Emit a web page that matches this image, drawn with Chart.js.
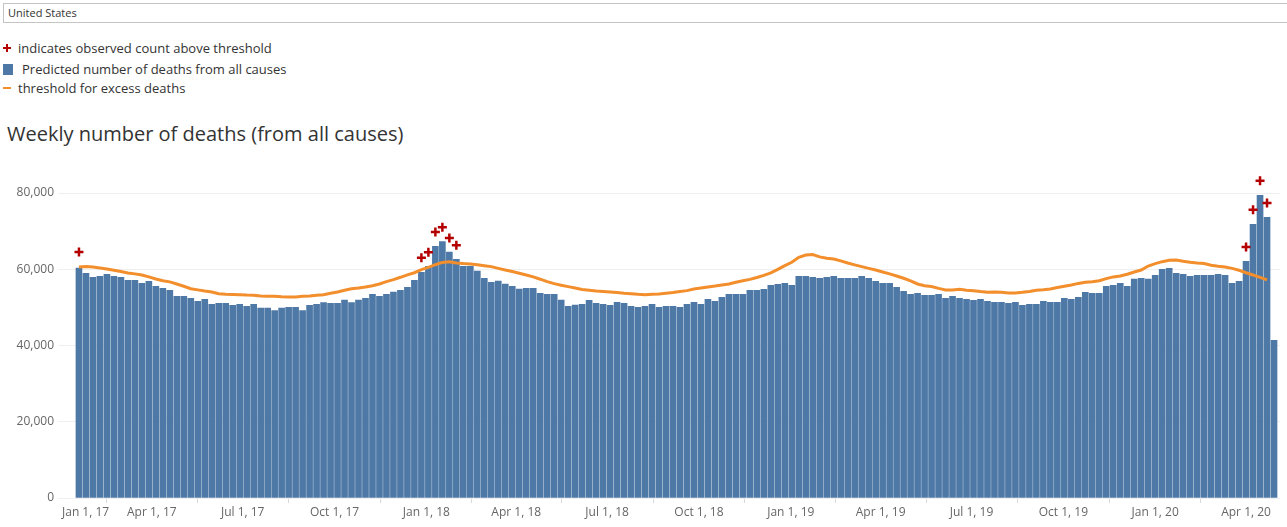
<!DOCTYPE html>
<html>
<head>
<meta charset="utf-8">
<title>Weekly number of deaths</title>
<script src="https://cdn.jsdelivr.net/npm/chart.js@4/dist/chart.umd.min.js"></script>
<style>
    body { margin: 0; background: #fff; font-family: "Open Sans", sans-serif; color: #333; }
    #page { position: relative; width: 1287px; height: 527px; overflow: hidden; }
    #filter {
        position: absolute; left: 3px; top: 3px; width: 1280px; height: 18px;
        border: 1px solid #c4c4c4; font-size: 11px; line-height: 18px; padding-left: 4px;
    }
    .legend-row { position: absolute; left: 0; height: 18px; font-size: 13px; line-height: 18px; white-space: nowrap; }
    .plus { position: absolute; left: 3px; top: 5px; width: 8px; height: 8px; }
    .plus::before, .plus::after { content: ""; position: absolute; background: #b40000; }
    .plus::before { left: 3px; top: 0; width: 2px; height: 8px; }
    .plus::after { left: 0; top: 3px; width: 8px; height: 2px; }
    .swatch { position: absolute; left: 3px; top: 4px; width: 10px; height: 11px; background: #4e79a7; }
    .dash { position: absolute; left: 3px; top: 8px; width: 8px; height: 2px; background: #f28e2b; }
    #title { position: absolute; left: 7px; top: 121px; font-size: 20px; line-height: 26px; white-space: nowrap; }
    #wrap { position: absolute; left: 0; top: 160px; width: 1287px; height: 367px; }
</style>
</head>
<body>
<div id="page">
    <div id="filter">United States</div>
    <div class="legend-row" style="top:39px"><span class="plus"></span><span style="margin-left:18px">indicates observed count above threshold</span></div>
    <div class="legend-row" style="top:60px"><span class="swatch"></span><span style="margin-left:22px">Predicted number of deaths from all causes</span></div>
    <div class="legend-row" style="top:79px"><span class="dash"></span><span style="margin-left:18px">threshold for excess deaths</span></div>
    <div id="title">Weekly number of deaths (from all causes)</div>
    <div id="wrap"><canvas id="chart"></canvas></div>
</div>
<script>
// --- Data (weekly, first week ending Jan 14, 2017) ---
const firstWeekEnding = '2017-01-14';

const predicted = [
    60350, 58950, 57900, 58150, 58700, 58150, 57900, 57100, 57100, 56300,
    56850, 55500, 55000, 54500, 52900, 52900, 52400, 51600, 52100, 50800,
    51050, 51050, 50550, 50800, 50300, 50800, 49800, 49800, 49200, 49800,
    50000, 50000, 49200, 50550, 50800, 51300, 51050, 51050, 51900, 51300,
    51900, 52400, 53400, 52900, 53400, 54000, 54500, 55300, 57100, 59200,
    60750, 66000, 67300, 64500, 62600, 60800, 60800, 59500, 57600, 56600,
    56900, 56100, 55500, 54800, 55000, 55000, 53700, 53400, 53400, 51900,
    50300, 50600, 50800, 51850, 51050, 50800, 50550, 51350, 51050, 50300,
    50000, 50300, 50800, 50000, 50300, 50300, 50000, 50800, 51350, 50800,
    52100, 51600, 52650, 53450, 53450, 53450, 54500, 54500, 54750, 55800,
    56050, 56300, 55800, 58150, 58150, 57900, 57600, 57900, 58150, 57600,
    57600, 57600, 58150, 57600, 56850, 56300, 56300, 55250, 54200, 53450,
    53700, 53200, 53200, 53450, 52400, 52900, 52400, 52100, 51850, 52100,
    51600, 51350, 51350, 51050, 51350, 50550, 50800, 50800, 51600, 51350,
    51350, 52400, 52100, 52650, 53950, 53700, 53700, 55550, 55800, 56300,
    55550, 57400, 57650, 57400, 58400, 60000, 60250, 58950, 58700, 58150,
    58400, 58400, 58400, 58700, 58400, 56300, 56850, 62100, 71800, 79400,
    73650, 41350
];

const threshold = [
    60600, 60700, 60600, 60350, 60100, 59750, 59400, 59050, 58800, 58500,
    58000, 57450, 57000, 56700, 56150, 55550, 54900, 54600, 54300, 54050,
    53600, 53450, 53400, 53350, 53250, 53200, 53000, 52900, 52900, 52800,
    52750, 52750, 52900, 53000, 53200, 53350, 53700, 54050, 54500, 54900,
    55100, 55350, 55700, 56150, 56750, 57300, 57900, 58550, 59100, 59900,
    60500, 61200, 61800, 62000, 61650, 61500, 61400, 61200, 60950, 60700,
    60250, 59800, 59400, 58950, 58500, 58000, 57400, 56750, 56250, 55800,
    55450, 55100, 54700, 54500, 54300, 54200, 54050, 53900, 53700, 53600,
    53450, 53350, 53450, 53500, 53700, 53900, 54150, 54400, 54850, 55100,
    55350, 55600, 55900, 56150, 56600, 57000, 57350, 57850, 58400, 59050,
    60000, 60950, 61850, 63150, 63750, 63850, 63250, 62900, 62700, 62200,
    61650, 61150, 60700, 60250, 59800, 59300, 58800, 58250, 57650, 56950,
    56150, 55700, 55500, 55000, 54600, 54600, 54750, 54500, 54400, 54150,
    53950, 54050, 53950, 53800, 53800, 53950, 54200, 54500, 54650, 54850,
    55200, 55550, 55900, 56300, 56600, 56750, 57000, 57550, 58000, 58250,
    58700, 59300, 59800, 60850, 61500, 62000, 62350, 62450, 62100, 61850,
    61650, 61500, 61050, 60800, 60600, 60250, 59750, 59100, 58500, 57900,
    57200, null
];

// weeks (0-based) flagged with a "+" and where the marker sits
const aboveWeeks = [0, 49, 50, 51, 52, 53, 54, 167, 168, 169, 170];
const aboveMarks = [64550, 63000, 64500, 69800, 71000, 68200, 66300, 65850, 75600, 83200, 77400];

const xTickDates = [
    '2017-01-01', '2017-04-01', '2017-07-01', '2017-10-01',
    '2018-01-01', '2018-04-01', '2018-07-01', '2018-10-01',
    '2019-01-01', '2019-04-01', '2019-07-01', '2019-10-01',
    '2020-01-01', '2020-04-01'
];
const xTickLabels = [
    'Jan 1, 17', 'Apr 1, 17', 'Jul 1, 17', 'Oct 1, 17',
    'Jan 1, 18', 'Apr 1, 18', 'Jul 1, 18', 'Oct 1, 18',
    'Jan 1, 19', 'Apr 1, 19', 'Jul 1, 19', 'Oct 1, 19',
    'Jan 1, 20', 'Apr 1, 20'
];
const yTicks = [0, 20000, 40000, 60000, 80000];

// --- Helpers ---
const DAY = 86400000;
const ORIGIN = Date.UTC(2017, 0, 1);

function dayNumber(iso) {
    const [y, m, d] = iso.split('-').map(Number);
    return (Date.UTC(y, m - 1, d) - ORIGIN) / DAY;
}

// Tableau draws each weekly bar a few days right of its week-ending date
const BAR_SHIFT_DAYS = 4;
const firstDay = dayNumber(firstWeekEnding) + BAR_SHIFT_DAYS;
const weekX = predicted.map((_, i) => firstDay + 7 * i);

const barPoints = predicted.map((v, i) => ({ x: weekX[i], y: v }));
const linePoints = threshold.map((v, i) => ({ x: weekX[i], y: v }));
const plusPoints = aboveWeeks.map((w, i) => ({ x: weekX[w], y: aboveMarks[i] }));

// x axis range in days from Jan 1, 2017
const X_MIN = -4;
const X_MAX = 1220;
const tickDays = xTickDates.map(dayNumber).concat([X_MAX]); // last one is a blank end tick

const AXIS_FONT = { family: '"Open Sans", sans-serif', size: 12 };

// --- Chart ---
const ctx = document.getElementById('chart').getContext('2d');
new Chart(ctx, {
    type: 'bar',
    data: {
        datasets: [
            {
                type: 'scatter',
                label: 'indicates observed count above threshold',
                data: plusPoints,
                pointStyle: 'cross',
                pointRadius: 4.5,
                borderWidth: 2.5,
                borderColor: '#b40000',
                backgroundColor: '#b40000',
                order: 0
            },
            {
                type: 'line',
                label: 'threshold for excess deaths',
                data: linePoints,
                borderColor: '#f28e2b',
                borderWidth: 3,
                pointRadius: 0,
                tension: 0,
                fill: false,
                order: 1
            },
            {
                type: 'bar',
                label: 'Predicted number of deaths from all causes',
                data: barPoints,
                backgroundColor: '#4e79a7',
                barThickness: 6,
                order: 2
            }
        ]
    },
    options: {
        responsive: true,
        maintainAspectRatio: false,
        animation: false,
        events: [],
        layout: { padding: { top: 14, right: 2, left: 0, bottom: 0 } },
        plugins: {
            legend: { display: false },
            title: { display: false },
            tooltip: { enabled: false }
        },
        scales: {
            x: {
                type: 'linear',
                min: X_MIN,
                max: X_MAX,
                bounds: 'data',
                offset: false,
                afterBuildTicks: scale => {
                    scale.ticks = tickDays.map(v => ({ value: v }));
                },
                afterFit: scale => { scale.height = 29; },
                ticks: {
                    autoSkip: false,
                    maxRotation: 0,
                    align: 'inner',
                    padding: 2,
                    color: '#666',
                    font: AXIS_FONT,
                    callback: (value, index) => xTickLabels[index] || ''
                },
                grid: {
                    drawOnChartArea: false,
                    drawTicks: true,
                    tickLength: 5,
                    color: c => (c.index < xTickLabels.length ? '#d9d9d9' : 'rgba(0,0,0,0)')
                },
                border: { display: false }
            },
            y: {
                min: 0,
                max: 85000,
                bounds: 'data',
                afterBuildTicks: scale => {
                    scale.ticks = yTicks.map(v => ({ value: v }));
                },
                afterFit: scale => { scale.width = 58; },
                ticks: {
                    padding: 4,
                    color: '#666',
                    font: AXIS_FONT,
                    callback: value => value.toLocaleString('en-US')
                },
                grid: {
                    color: '#efefef',
                    drawTicks: false
                },
                border: { display: false }
            }
        }
    }
});
</script>
</body>
</html>
